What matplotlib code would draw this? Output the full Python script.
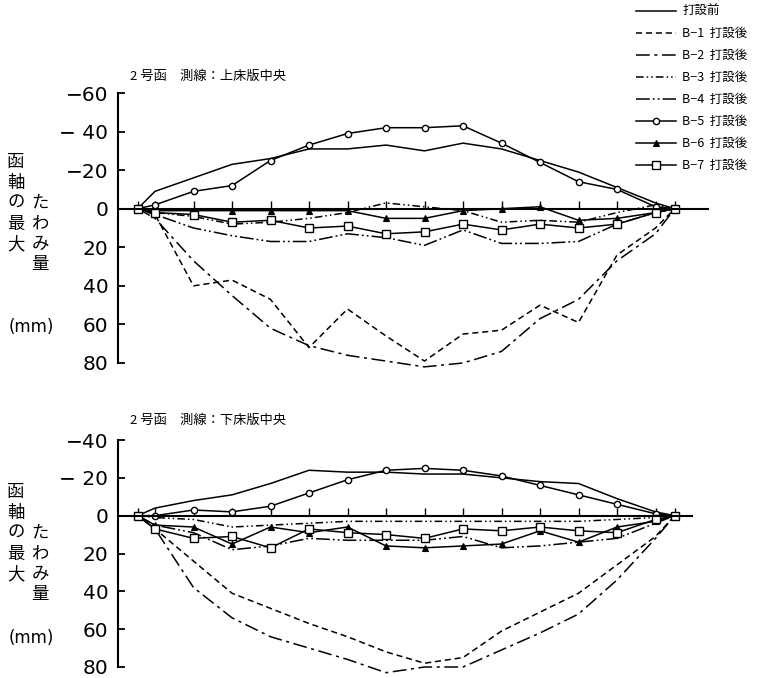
import matplotlib
matplotlib.use("Agg")
import matplotlib.pyplot as plt

plt.rcParams['font.family'] = ['Noto Sans CJK JP', 'DejaVu Sans']

# station positions (support, stations 0..13, support)
stations = [-0.45, 0, 1, 2, 3, 4, 5, 6, 7, 8, 9, 10, 11, 12, 13, 13.5]

series_names = ['打設前', 'B−1  打設後', 'B−2  打設後', 'B−3  打設後',
                'B−4  打設後', 'B−5  打設後', 'B−6  打設後', 'B−7  打設後']

# upper slab centre (mm, + = downward)
top_pre = [0, -9, -16, -23, -26, -31, -31, -33, -30, -34, -31, -25, -19, -11, -3, 0]
top_b1 = [0, 3, 40, 37, 47, 72, 52, 66, 79, 65, 63, 50, 59, 24, 10, 0]
top_b2 = [0, 5, 27, 45, 62, 71, 76, 79, 82, 80, 74, 57, 47, 27, 13, 0]
top_b3 = [0, 2, 4, 8, 7, 5, 2, -3, -1, 1, 7, 6, 7, 2, -2, 0]
top_b4 = [0, 3, 10, 14, 17, 17, 13, 15, 19, 11, 18, 18, 17, 8, 2, 0]
top_b5 = [0, -2, -9, -12, -25, -33, -39, -42, -42, -43, -34, -24, -14, -10, -1, 0]
top_b6 = [0, 1, 1, 1, 1, 1, 1, 5, 5, 1, 0, -1, 6, 5, 2, 0]
top_b7 = [0, 2, 3, 7, 6, 10, 9, 13, 12, 8, 11, 8, 10, 8, 2, 0]

# lower slab centre
bot_pre = [0, -4, -8, -11, -17, -24, -23, -23, -22, -22, -20, -18, -17, -9, -2, 0]
bot_b1 = [0, 7, 24, 41, 49, 57, 64, 72, 78, 75, 61, 51, 41, 26, 11, 0]
bot_b2 = [0, 7, 38, 54, 64, 70, 76, 83, 80, 80, 71, 62, 52, 34, 12, 0]
bot_b3 = [0, 1, 2, 6, 5, 4, 3, 3, 3, 3, 3, 3, 3, 2, 1, 0]
bot_b4 = [0, 5, 9, 18, 16, 12, 13, 13, 13, 11, 17, 16, 14, 12, 4, 0]
bot_b5 = [0, 0, -3, -2, -5, -12, -19, -24, -25, -24, -21, -16, -11, -6, -1, 0]
bot_b6 = [0, 5, 6, 15, 6, 9, 6, 16, 17, 16, 15, 8, 14, 6, 3, 0]
bot_b7 = [0, 7, 12, 11, 17, 7, 9, 10, 12, 7, 8, 6, 8, 9, 2, 0]

yticks_top = [-60, -40, -20, 0, 20, 40, 60, 80]
yticklabels_top = ['−60', '− 40', '−20', '0', '20', '40', '60', '80']
yticks_bot = [-40, -20, 0, 20, 40, 60, 80]
yticklabels_bot = ['−40', '− 20', '0', '20', '40', '60', '80']

title_top = '2 号函　測線：上床版中央'
title_bot = '2 号函　測線：下床版中央'

styles = [
    dict(ls='-', marker=None),
    dict(ls=(0, (4, 2.5)), marker=None),
    dict(ls=(0, (9, 3, 2, 3)), marker=None),
    dict(ls=(0, (5, 2, 1, 2, 1, 2)), marker=None),
    dict(ls=(0, (9, 2, 1.2, 2, 1.2, 2)), marker=None),
    dict(ls='-', marker='o', ms=4.5, mfc='white', mec='black', mew=1.0),
    dict(ls='-', marker='^', ms=4.5, mfc='black', mec='black', mew=0.8),
    dict(ls='-', marker='s', ms=5.8, mfc='white', mec='black', mew=1.0),
]

W, H = 767, 678
fig = plt.figure(figsize=(W / 100, H / 100), dpi=100)

x0px, dx = 155.0, 38.5
xlim = ((118 - x0px) / dx, (708 - x0px) / dx)

def setup(ax, data, ylim, yticks, ylabels, xend_px):
    for d, st, name in zip(data, styles, series_names):
        ax.plot(stations, d, color='black', lw=1.1, label=name,
                clip_on=False, **st)
    ax.set_xlim(*xlim)
    ax.set_ylim(*ylim)
    for s in ['top', 'right']:
        ax.spines[s].set_visible(False)
    ax.spines['left'].set_linewidth(1.5)
    ax.spines['left'].set_bounds(ylim[1], ylim[0])
    ax.spines['bottom'].set_position(('data', 0))
    ax.spines['bottom'].set_linewidth(1.5)
    ax.spines['bottom'].set_bounds(xlim[0], (xend_px - x0px) / dx)
    ax.set_yticks(yticks)
    ax.set_yticklabels(ylabels, family='DejaVu Sans', fontsize=14.5)
    ax.tick_params(axis='y', direction='in', length=5, width=1.3, pad=7)
    ax.set_xticks(stations)
    ax.set_xticklabels([])
    ax.tick_params(axis='x', direction='in', length=6, width=1.0)
    ax.patch.set_visible(False)

ax1 = fig.add_axes([118 / W, 1 - 363 / H, 590 / W, 270 / H])
setup(ax1, [top_pre, top_b1, top_b2, top_b3, top_b4, top_b5, top_b6, top_b7],
      (80, -60), yticks_top, yticklabels_top, 708)

ax2 = fig.add_axes([118 / W, 1 - 667 / H, 590 / W, 227 / H])
setup(ax2, [bot_pre, bot_b1, bot_b2, bot_b3, bot_b4, bot_b5, bot_b6, bot_b7],
      (80, -40), yticks_bot, yticklabels_bot, 692)

fig.text(130 / W, 1 - 76 / H, title_top, fontsize=9.5, va='center', ha='left')
fig.text(130 / W, 1 - 420 / H, title_bot, fontsize=9.5, va='center', ha='left')

def vlabel(top_y, mm_y):
    col1 = '函軸の最大'
    col2 = 'たわみ量'
    pitch = 20.5
    for i, ch in enumerate(col1):
        fig.text(16 / W, 1 - (top_y + i * pitch) / H, ch, fontsize=12.5,
                 ha='center', va='center')
    for i, ch in enumerate(col2):
        fig.text(40 / W, 1 - (top_y + (i + 2) * pitch) / H, ch, fontsize=12.5,
                 ha='center', va='center')
    fig.text(31 / W, 1 - mm_y / H, '(mm)', fontsize=12, ha='center', va='center',
             family='DejaVu Sans')

vlabel(162, 327)
vlabel(492, 638)

handles, labels = ax1.get_legend_handles_labels()
leg = fig.legend(handles, labels, loc='upper left',
                 bbox_to_anchor=(636 / W, 1 - 5 / H), frameon=False,
                 fontsize=9, handlelength=3.2, handletextpad=0.5,
                 labelspacing=0.72, borderpad=0, borderaxespad=0)

fig.savefig('out.png', dpi=100)
